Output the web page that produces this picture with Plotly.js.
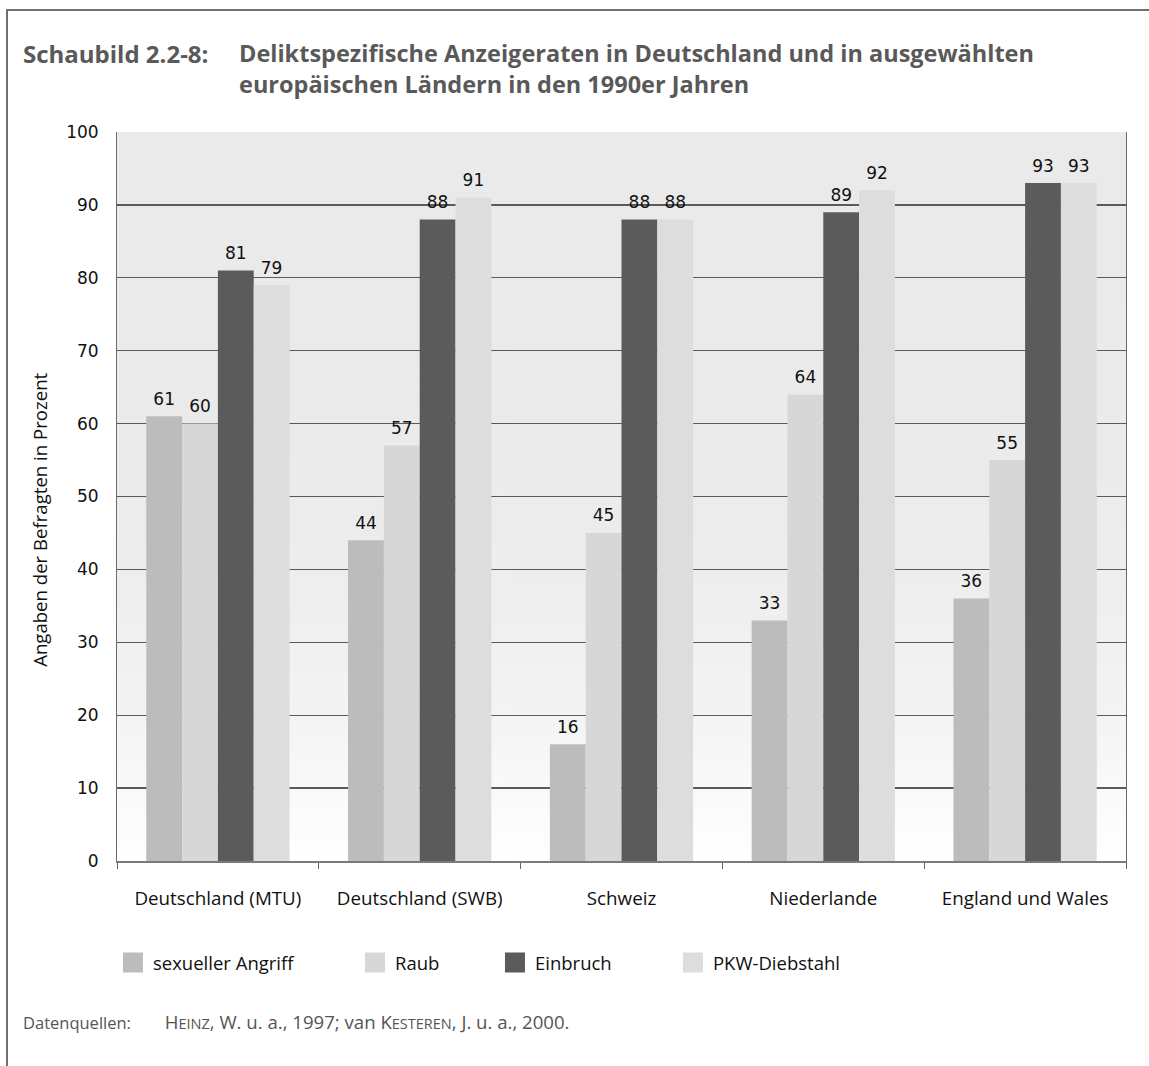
<!DOCTYPE html>
<html>
<head>
<meta charset="utf-8">
<script src="https://cdn.plot.ly/plotly-3.0.1.min.js"></script>
<style>
  html, body { margin: 0; padding: 0; background: #ffffff; }
  #wrap { position: relative; width: 1149px; height: 1066px; overflow: hidden; }
  #chart { position: absolute; left: 0; top: 0; width: 1149px; height: 1066px; }
  #frame {
    position: absolute; left: 6px; top: 9px; right: -4px; bottom: -4px;
    border-left: 2px solid #707070; border-top: 2px solid #707070;
    pointer-events: none;
  }
</style>
</head>
<body>
<div id="wrap">
  <div id="chart"></div>
  <div id="frame"></div>
</div>
<script>
// Reporting rates by offence type (percent of respondents)
const categories = ["Deutschland (MTU)", "Deutschland (SWB)", "Schweiz", "Niederlande", "England und Wales"];
const seriesNames = ["sexueller Angriff", "Raub", "Einbruch", "PKW-Diebstahl"];
const sexuellerAngriff = [61, 44, 16, 33, 36];
const raub = [60, 57, 45, 64, 55];
const einbruch = [81, 88, 88, 89, 93];
const pkwDiebstahl = [79, 91, 88, 92, 93];
const yTicks = [0, 10, 20, 30, 40, 50, 60, 70, 80, 90, 100];

const seriesValues = [sexuellerAngriff, raub, einbruch, pkwDiebstahl];
const seriesColors = ["#bcbcbc", "#d7d7d7", "#5b5b5b", "#dddddd"];
const legendIds = ["legend", "legend2", "legend3", "legend4"];
const legendX = [-0.004, 0.2359, 0.3746, 0.551];

const labelFont = "Open Sans, Noto Sans, sans-serif";
const numFont = "DejaVu Sans, Verdana, sans-serif";
const GAP = 0.29;

// plot background: soft vertical fade from light grey to white
function fadeImage() {
  const c = document.createElement("canvas");
  c.width = 4; c.height = 512;
  const g = c.getContext("2d");
  const grad = g.createLinearGradient(0, 0, 0, 512);
  grad.addColorStop(0.0, "#eaeaea");
  grad.addColorStop(0.45, "#ebebeb");
  grad.addColorStop(0.62, "#eeeeee");
  grad.addColorStop(0.8, "#f4f4f4");
  grad.addColorStop(1.0, "#ffffff");
  g.fillStyle = grad;
  g.fillRect(0, 0, 4, 512);
  return c.toDataURL("image/png");
}

const traces = [];
// grouped bars, one offset group per offence type
seriesValues.forEach((vals, i) => {
  traces.push({
    type: "bar",
    name: seriesNames[i],
    x: categories,
    y: vals,
    offsetgroup: "g" + i,
    marker: { color: seriesColors[i], line: { width: 0 } },
    showlegend: false,
    hoverinfo: "skip"
  });
});
// value labels above each bar (grouped like the bars)
seriesValues.forEach((vals, i) => {
  traces.push({
    type: "scatter",
    mode: "markers+text",
    name: seriesNames[i],
    x: categories,
    y: vals,
    text: vals.map(String),
    textposition: "top center",
    textfont: { family: numFont, size: 17, color: "#111111" },
    marker: { size: 10, opacity: 0, color: seriesColors[i] },
    offsetgroup: "g" + i,
    cliponaxis: false,
    showlegend: false,
    hoverinfo: "skip"
  });
});
// legend entries with larger square keys
seriesNames.forEach((name, i) => {
  traces.push({
    type: "scatter",
    mode: "markers",
    name: name,
    x: [null],
    y: [null],
    legend: legendIds[i],
    offsetgroup: "g" + i,
    marker: { symbol: "square", size: 16, color: seriesColors[i], line: { width: 4, color: seriesColors[i] } },
    hoverinfo: "skip"
  });
});

const legendBase = {
  orientation: "h",
  yanchor: "middle",
  xanchor: "left",
  y: -0.14,
  bgcolor: "rgba(0,0,0,0)",
  borderwidth: 0,
  itemsizing: "trace",
  font: { family: labelFont, size: 18.5, color: "#111111" }
};

const layout = {
  width: 1149,
  height: 1066,
  margin: { l: 117, r: 23, t: 132, b: 205 },
  paper_bgcolor: "rgba(0,0,0,0)",
  plot_bgcolor: "rgba(0,0,0,0)",
  barmode: "group",
  bargap: GAP,
  bargroupgap: 0,
  scattermode: "group",
  scattergap: GAP,
  hovermode: false,
  images: [{
    source: fadeImage(),
    xref: "paper", yref: "paper",
    x: 0, y: 1, sizex: 1, sizey: 1,
    xanchor: "left", yanchor: "top",
    sizing: "stretch",
    layer: "below"
  }],
  xaxis: {
    type: "category",
    showgrid: false,
    showline: true,
    linecolor: "#7a7a7a",
    linewidth: 2,
    ticks: "outside",
    tickson: "boundaries",
    ticklen: 6,
    tickwidth: 1,
    tickcolor: "#666666",
    ticklabelstandoff: 19,
    tickfont: { family: labelFont, size: 18.8, color: "#111111" },
    fixedrange: true
  },
  yaxis: {
    range: [0, 100],
    tickvals: yTicks,
    ticktext: yTicks.map(String),
    showgrid: true,
    gridcolor: "#5a5a5a",
    gridwidth: 1.2,
    showline: true,
    mirror: true,
    linecolor: "#6a6a6a",
    linewidth: 1,
    zeroline: false,
    ticks: "",
    ticklabelstandoff: 14,
    tickfont: { family: numFont, size: 17, color: "#111111" },
    fixedrange: true
  },
  annotations: [
    {
      text: "Schaubild 2.2-8:",
      xref: "paper", yref: "paper",
      x: -0.0952, y: 1.133,
      xanchor: "left", yanchor: "top",
      showarrow: false,
      font: { family: labelFont, size: 24, color: "#595959", weight: 700 }
    },
    {
      text: "Deliktspezifische Anzeigeraten in Deutschland und in ausgewählten<br>europäischen Ländern in den 1990er Jahren",
      xref: "paper", yref: "paper",
      x: 0.1189, y: 1.133,
      xanchor: "left", yanchor: "top",
      align: "left",
      showarrow: false,
      font: { family: labelFont, size: 23.5, color: "#595959", weight: 700 }
    },
    {
      text: "Angaben der Befragten in Prozent",
      xref: "paper", yref: "paper",
      x: -0.0763, y: 0.468,
      xanchor: "center", yanchor: "middle",
      textangle: -90,
      showarrow: false,
      font: { family: labelFont, size: 18.6, color: "#111111" }
    },
    {
      text: "<span style=\"font-size:16.5px\">Datenquellen:</span>\u00a0\u00a0\u00a0\u00a0\u00a0\u00a0\u00a0H<span style=\"font-size:14.5px\">EINZ</span>, W. u. a., 1997; van K<span style=\"font-size:14.5px\">ESTEREN</span>, J. u. a., 2000.",
      xref: "paper", yref: "paper",
      x: -0.0952, y: -0.2208,
      xanchor: "left", yanchor: "middle",
      showarrow: false,
      font: { family: labelFont, size: 18.6, color: "#555555" }
    }
  ]
};
legendIds.forEach((id, i) => {
  layout[id] = Object.assign({}, legendBase, { x: legendX[i] });
});

Plotly.newPlot("chart", traces, layout, { displayModeBar: false, staticPlot: true });
</script>
</body>
</html>
